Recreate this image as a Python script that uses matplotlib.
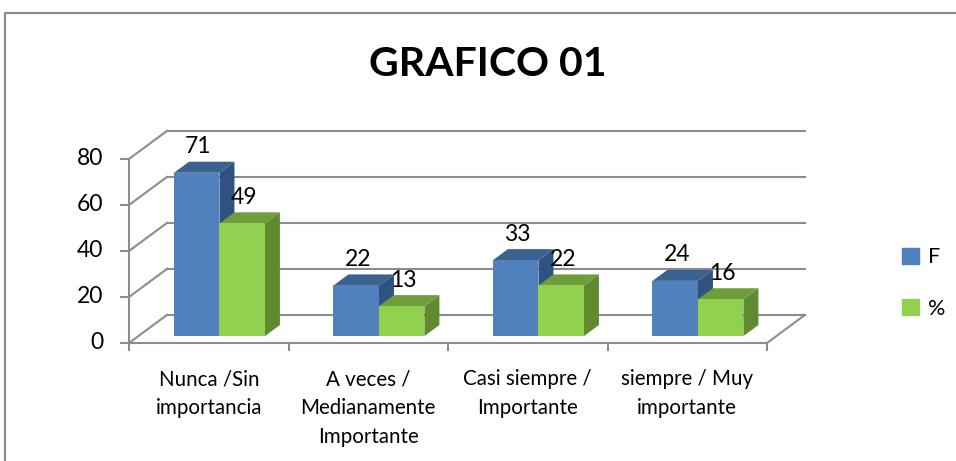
import matplotlib.pyplot as plt
from matplotlib.patches import Polygon, Patch
from matplotlib.lines import Line2D

plt.rcParams['font.family'] = ['Lato', 'DejaVu Sans']

categorias = ["Nunca /Sin\nimportancia", "A veces /\nMedianamente\nImportante",
              "Casi siempre /\nImportante", "siempre / Muy\nimportante"]
serie_f = [71, 22, 33, 24]
serie_pct = [49, 13, 22, 16]
nombres = ["F", "%"]
yticks = [0, 20, 40, 60, 80]

azul = ("#4F81BD", "#3A6190", "#2F5281")   # frente, arriba, lado
verde = ("#92D050", "#6E9E3A", "#5F8A30")

# "profundidad" del cuadro 3D, en unidades de datos
DX, DY = 0.238, 12.2
# posicion de las barras dentro de la profundidad
bx, by = 0.06, 3.0
ddx, ddy = 0.094, 4.8
ancho = 0.285
gris = "#8C8C8C"

fig = plt.figure(figsize=(9.56, 4.61), dpi=100)
ax = fig.add_axes([0, 0, 1, 1])
ax.set_xlim(-1.309, 4.685)
ax.set_ylim(-51.3, 149.1)
ax.axis('off')

x0, x1 = -0.5, len(categorias) - 0.5

# paredes y lineas de division
for v in yticks:
    ax.plot([x0 + DX, x1 + DX], [v + DY, v + DY], color=gris, lw=1.5, zorder=1)
    ax.plot([x0, x0 + DX], [v, v + DY], color=gris, lw=1.5, zorder=1)
    ax.plot([x0 - 0.05, x0], [v, v], color=gris, lw=1.5, zorder=1)
    ax.text(x0 - 0.16, v, str(v), ha='right', va='center', fontsize=16.5)
ax.plot([x0, x0], [0, yticks[-1]], color=gris, lw=1.5, zorder=1)
ax.plot([x0, x1], [0, 0], color=gris, lw=1.5, zorder=1)
ax.plot([x1, x1 + DX], [0, DY], color=gris, lw=1.5, zorder=1)
for i in range(len(categorias) + 1):
    ax.plot([x0 + i, x0 + i], [0, -3.2], color=gris, lw=1.5, zorder=1)


def barra3d(izq, val, cols):
    der = izq + ancho
    top = by + val
    ax.add_patch(Polygon([(der, by), (der + ddx, by + ddy), (der + ddx, top + ddy), (der, top)],
                         closed=True, facecolor=cols[2], edgecolor='none', zorder=3))
    ax.add_patch(Polygon([(izq, top), (izq + ddx, top + ddy), (der + ddx, top + ddy), (der, top)],
                         closed=True, facecolor=cols[1], edgecolor='none', zorder=3))
    ax.bar(izq, val, width=ancho, bottom=by, align='edge', color=cols[0], zorder=3)
    ax.text(izq + ancho / 2 + 0.01, top + 11.3, str(val), ha='center', va='center',
            fontsize=16.5, zorder=5)


for i, (f, p) in enumerate(zip(serie_f, serie_pct)):
    barra3d(i - 0.218, f, azul)
    barra3d(i - 0.218 + ancho, p, verde)
    ax.text(i, -11.5, categorias[i], ha='center', va='top', fontsize=14.8, linespacing=1.55)

fig.text(488 / 956, 1 - 64 / 461, "GRAFICO 01", ha='center', va='center',
         fontsize=29.5, fontweight='bold')

fig.legend(handles=[Patch(color=azul[0]), Patch(color=verde[0])], labels=nombres,
           loc='center left', bbox_to_anchor=(883 / 956, 1 - 283 / 461), frameon=False,
           handlelength=0.75, handleheight=0.75, handletextpad=0.45, labelspacing=1.45,
           fontsize=15.5)

fig.add_artist(Line2D([5 / 956, 5 / 956, 1], [0, 1 - 13 / 461, 1 - 13 / 461],
                      color="#8A8A8A", lw=1.5))

fig.savefig("out.png", dpi=100)
